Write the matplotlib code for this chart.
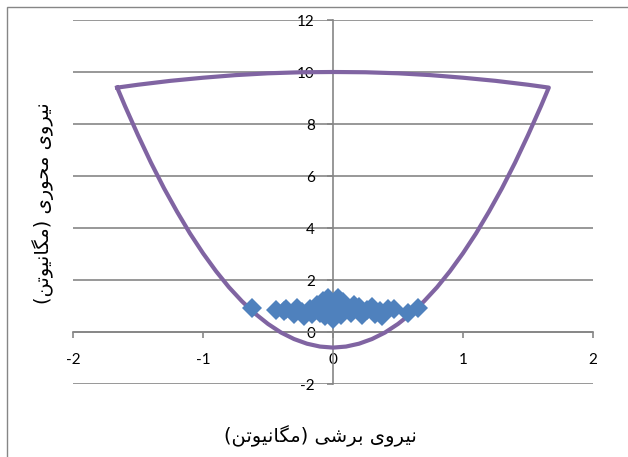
import matplotlib
matplotlib.use("Agg")
import matplotlib.pyplot as plt
from matplotlib.patches import Rectangle

# Envelope curve: lower parabola + upper arc, closed
env_x = [-1.66, -1.6, -1.5, -1.4, -1.3, -1.2, -1.1, -1.0, -0.9, -0.8, -0.7, -0.6,
         -0.5, -0.4, -0.3, -0.2, -0.1, 0.0, 0.1, 0.2, 0.3, 0.4, 0.5, 0.6, 0.7,
         0.8, 0.9, 1.0, 1.1, 1.2, 1.3, 1.4, 1.5, 1.6, 1.66,
         1.5, 1.25, 1.0, 0.75, 0.5, 0.25, 0.0, -0.25, -0.5, -0.75, -1.0, -1.25, -1.5, -1.66]
env_y = [9.40, 8.69, 7.57, 6.51, 5.53, 4.63, 3.79, 3.03, 2.34, 1.72, 1.18, 0.71,
         0.31, -0.02, -0.27, -0.45, -0.56, -0.60, -0.56, -0.45, -0.27, -0.02, 0.31, 0.71, 1.18,
         1.72, 2.34, 3.03, 3.79, 4.63, 5.53, 6.51, 7.57, 8.69, 9.40,
         9.51, 9.66, 9.78, 9.88, 9.95, 9.99, 10.0, 9.99, 9.95, 9.88, 9.78, 9.66, 9.51, 9.40]

# Load points (shear, axial)
pts_x = [-0.62, -0.44, -0.38, -0.36, -0.30, -0.28, -0.24, -0.22, -0.18, -0.16,
         -0.12, -0.10, -0.08, -0.06, -0.04, -0.02, 0.00, 0.00, 0.02, 0.04,
         0.06, 0.08, 0.10, 0.14, 0.16, 0.20, 0.22, 0.26, 0.30, 0.32,
         0.36, 0.38, 0.42, 0.47, 0.58, 0.65]
pts_y = [0.93, 0.85, 0.82, 0.90, 0.70, 0.92, 0.78, 0.62, 0.88, 0.70,
         1.05, 0.75, 1.20, 0.60, 1.30, 0.95, 0.50, 1.10, 0.80, 1.32,
         0.65, 1.15, 0.90, 0.72, 1.05, 0.95, 0.65, 0.85, 0.98, 0.68,
         0.80, 0.62, 0.90, 0.90, 0.75, 0.92]

x_ticks = [-2, -1, 0, 1, 2]
y_ticks = [-2, 0, 2, 4, 6, 8, 10, 12]

# Persian titles in visual order with presentation forms
xlabel = "(\uFEE6\uFE97\uFEEE\uFBFF\uFEE7\uFE8E\uFB95\uFEE3) \uFBFD\uFEB7\uFEAE\uFE91 \uFBFC\uFEED\uFEAE\uFBFF\uFEE7"
ylabel = "(\uFEE6\uFE97\uFEEE\uFBFF\uFEE7\uFE8E\uFB95\uFEE3) \uFBFC\uFEAD\uFEEE\uFEA4\uFEE3 \uFBFC\uFEED\uFEAE\uFBFF\uFEE7"

GRAY = "#868686"
fig = plt.figure(figsize=(6.28, 4.57), dpi=100)
fig.patch.set_facecolor("white")
fig.patches.append(Rectangle((7/628, -0.1), 1.2, 1.1 - 7/457, transform=fig.transFigure,
                             fill=False, edgecolor=GRAY, lw=1.0, zorder=0))

ax = fig.add_axes([73/628, 1 - 384/457, 520/628, 364/457])
ax.set_xlim(-2, 2)
ax.set_ylim(-2, 12)
ax.set_xticks(x_ticks)
ax.set_yticks(y_ticks)
ax.set_xticklabels([str(v) for v in x_ticks])
ax.set_yticklabels([str(v) for v in y_ticks])
for s in ["top", "right"]:
    ax.spines[s].set_visible(False)
ax.spines["left"].set_position(("data", 0))
ax.spines["bottom"].set_position(("data", 0))
for s in ["left", "bottom"]:
    ax.spines[s].set_color(GRAY)
    ax.spines[s].set_linewidth(1.2)
ax.yaxis.grid(True, color=GRAY, lw=1.2)
ax.set_axisbelow(True)
ax.tick_params(axis="both", direction="out", length=4, width=1.2, color=GRAY,
               labelsize=11, labelcolor="black")
ax.tick_params(axis="y", pad=9)
ax.tick_params(axis="x", pad=11)
for lab in ax.get_xticklabels() + ax.get_yticklabels():
    lab.set_family("Lato")

ax.plot(env_x, env_y, color="#8064A2", lw=3.0, zorder=3, solid_joinstyle="round")
ax.plot(pts_x, pts_y, linestyle="none", marker="D", markersize=10.5,
        color="#4F81BD", markeredgewidth=0, zorder=4)

fig.text(320/628, 1 - 436/457, xlabel, ha="center", va="center", fontsize=14,
         family="DejaVu Sans")
fig.text(43/628, 1 - 203/457, ylabel, ha="center", va="center", fontsize=14,
         rotation=90, family="DejaVu Sans")

fig.savefig("out.png", dpi=100)
